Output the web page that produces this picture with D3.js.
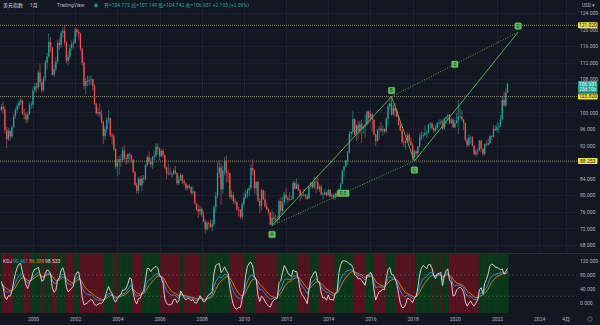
<!DOCTYPE html>
<html>
<head>
<meta charset="utf-8">
<title>美元指数 1月</title>
<script src="https://cdn.jsdelivr.net/npm/d3@7/dist/d3.min.js"></script>
<style>
  html, body { margin: 0; padding: 0; background: #131722; overflow: hidden; }
  svg { display: block; }
  text { font-family: Roboto, "Noto Sans CJK SC", sans-serif; }
</style>
</head>
<body>
<svg id="chart" width="600" height="325"></svg>
<script>
// ---- Monthly U.S. Dollar Index bars, July 1998 – July 2022 ----
// Each monthly bar opens where the previous month closed.
const firstBar = "1998-07";
const firstOpen = 100.6;

const closes = [
  101.4, 100.8, 95.8, 93.6, 95.5, 94.2,
  96.4, 99.2, 100.6, 101.6, 102.4, 102.9, 99.8, 99.5, 98.3, 99.6, 101.8, 101.9,
  105.3, 106.3, 106.0, 109.6, 107.3, 105.3, 108.2, 112.0, 113.5, 117.0, 115.7, 109.1,
  110.5, 112.3, 116.8, 116.2, 119.2, 119.7, 116.9, 112.4, 113.4, 115.6, 116.5, 116.8,
  120.0, 119.4, 119.0, 115.4, 112.0, 106.4, 107.6, 107.5, 107.8, 108.0, 106.4, 102.0,
  99.8, 100.1, 99.6, 97.8, 94.3, 96.0, 98.3, 98.6, 94.5, 94.2, 91.2, 86.9,
  88.0, 88.7, 88.5, 90.8, 88.9, 88.8, 89.9, 89.6, 88.6, 85.6, 82.5, 81.1,
  83.9, 82.4, 84.1, 84.0, 87.3, 89.2, 88.2, 87.4, 89.2, 89.6, 91.7, 91.2,
  89.4, 90.7, 89.7, 86.7, 85.3, 85.3, 85.2, 85.2, 86.0, 85.4, 82.9, 83.7,
  84.9, 83.4, 82.9, 81.7, 82.3, 81.9, 80.6, 80.9, 78.0, 76.6, 76.1, 76.7,
  75.2, 73.6, 71.8, 73.3, 73.2, 72.4, 73.1, 77.1, 79.9, 85.4, 86.7, 81.4,
  86.0, 88.4, 85.4, 85.3, 79.6, 80.1, 78.6, 78.4, 76.6, 76.4, 74.8, 77.9,
  79.5, 80.3, 81.2, 81.8, 86.6, 86.0, 81.7, 83.2, 78.7, 77.4, 81.2, 79.0,
  77.3, 76.6, 75.9, 72.9, 74.6, 74.3, 74.1, 74.2, 78.6, 76.2, 78.3, 80.2,
  79.3, 78.9, 79.0, 79.1, 83.0, 81.6, 82.6, 81.2, 79.9, 80.1, 80.2, 79.8,
  79.2, 82.1, 83.0, 81.9, 83.3, 83.2, 81.5, 82.1, 80.2, 80.2, 80.7, 80.0,
  81.3, 79.7, 80.1, 79.5, 80.4, 79.8, 81.5, 82.8, 86.0, 86.9, 88.4, 90.3,
  94.8, 95.3, 98.4, 94.6, 96.9, 95.5, 97.3, 96.1, 96.4, 97.0, 100.2, 98.6,
  99.6, 98.2, 94.6, 93.1, 95.9, 96.1, 95.6, 96.0, 95.4, 98.5, 101.5, 102.2,
  99.5, 101.1, 100.3, 99.0, 97.0, 95.6, 92.9, 92.7, 93.1, 94.6, 93.0, 92.1,
  89.1, 90.6, 90.1, 91.8, 94.0, 94.5, 94.5, 95.1, 95.1, 97.1, 97.3, 96.2,
  95.6, 96.2, 97.3, 97.5, 97.8, 96.1, 98.5, 98.9, 99.4, 97.4, 98.3, 96.4,
  97.4, 98.1, 99.0, 99.0, 98.3, 97.4, 93.3, 92.1, 93.9, 94.0, 91.9, 89.9,
  90.6, 90.9, 93.2, 91.3, 90.0, 92.4, 92.2, 92.6, 94.3, 94.1, 96.0, 95.7,
  96.5, 96.7, 98.3, 103.0, 101.7, 104.775, 106.931
];

const highs = [
  102.0, 102.6, 101.5, 96.5, 96.3, 95.8,
  96.9, 99.6, 101.2, 102.2, 103.0, 103.6, 103.1, 100.9, 100.0, 100.3, 102.4, 102.6,
  106.1, 107.1, 107.2, 110.2, 111.8, 108.0, 108.8, 112.6, 114.4, 119.1, 118.2, 115.8,
  111.6, 113.4, 117.6, 117.9, 119.6, 120.5, 121.02, 117.2, 114.7, 116.4, 117.4, 117.6,
  120.5, 120.4, 120.0, 119.3, 115.6, 112.4, 108.4, 108.9, 108.8, 109.0, 108.2, 106.8,
  102.3, 101.3, 102.1, 100.6, 98.0, 96.7, 98.9, 100.6, 98.8, 95.1, 94.8, 91.4,
  88.9, 89.5, 90.0, 91.7, 92.0, 89.8, 90.2, 90.4, 90.0, 88.8, 85.8, 83.0,
  84.4, 84.6, 84.9, 84.9, 87.6, 89.7, 90.6, 89.0, 89.5, 90.7, 92.6, 92.5,
  91.6, 91.1, 91.3, 89.9, 86.9, 87.6, 86.7, 85.8, 86.5, 87.1, 85.5, 84.7,
  85.4, 85.1, 83.9, 83.1, 82.6, 82.8, 82.2, 82.3, 81.1, 78.1, 77.8, 77.6,
  77.1, 76.3, 74.3, 73.8, 73.8, 74.1, 74.1, 77.6, 80.8, 88.0, 88.5, 87.7,
  87.1, 89.2, 89.6, 86.2, 85.4, 81.3, 80.8, 79.3, 78.5, 77.2, 76.7, 78.4,
  80.7, 81.3, 81.7, 82.5, 87.5, 88.7, 86.2, 83.4, 83.5, 79.3, 81.5, 81.4,
  81.0, 78.4, 77.0, 76.0, 76.4, 76.0, 75.3, 75.1, 79.0, 79.5, 79.7, 80.8,
  81.8, 79.8, 80.8, 79.9, 83.5, 83.4, 84.1, 82.9, 81.5, 80.4, 81.5, 80.3,
  80.3, 82.2, 83.2, 83.2, 84.5, 84.5, 84.75, 82.6, 82.6, 80.8, 81.5, 80.9,
  81.5, 81.4, 80.5, 80.3, 80.7, 81.0, 81.6, 82.9, 86.1, 87.2, 88.6, 90.6,
  95.5, 95.5, 100.4, 98.6, 97.3, 97.8, 98.1, 98.3, 96.9, 99.5, 100.5, 100.5,
  100.5, 99.9, 98.5, 94.9, 96.0, 96.7, 97.6, 96.8, 96.1, 98.9, 102.0, 103.65,
  103.82, 101.8, 102.3, 101.0, 99.5, 97.8, 96.0, 94.1, 93.6, 95.2, 95.1, 94.0,
  92.6, 90.9, 90.9, 91.9, 95.0, 95.5, 95.2, 96.9, 95.7, 97.2, 97.7, 97.7,
  96.9, 96.9, 97.7, 98.3, 98.4, 98.2, 98.7, 99.1, 99.7, 99.7, 98.6, 98.6,
  98.2, 99.9, 103.0, 100.9, 100.6, 98.4, 97.6, 93.9, 94.7, 94.3, 94.3, 92.1,
  91.1, 91.4, 93.4, 93.4, 91.4, 92.5, 93.2, 93.7, 94.5, 94.6, 96.9, 96.9,
  97.4, 97.7, 99.4, 103.9, 105.0, 105.8, 107.149
];

const lows = [
  100.3, 99.7, 95.0, 91.4, 93.1, 93.2,
  93.8, 96.3, 98.5, 99.8, 100.9, 101.8, 99.4, 98.3, 97.3, 97.4, 99.3, 100.8,
  101.0, 104.6, 104.9, 105.6, 106.2, 104.7, 105.0, 107.5, 110.4, 113.0, 114.6, 108.9,
  108.5, 109.9, 111.7, 115.1, 115.6, 118.0, 116.2, 111.9, 111.3, 112.7, 114.8, 115.4,
  116.5, 118.3, 117.6, 114.7, 111.4, 105.6, 104.4, 106.3, 106.4, 106.6, 105.3, 101.8,
  99.4, 99.0, 98.8, 97.3, 92.4, 93.3, 95.1, 97.4, 94.0, 92.3, 90.6, 86.3,
  84.6, 85.0, 86.9, 88.0, 88.4, 87.4, 87.6, 88.4, 87.8, 85.4, 82.1, 80.4,
  80.4, 82.1, 81.0, 83.0, 83.5, 86.9, 87.5, 86.7, 86.4, 88.6, 89.1, 89.9,
  88.4, 89.2, 89.1, 86.3, 83.9, 84.8, 84.8, 84.2, 84.8, 85.0, 82.5, 82.4,
  83.4, 82.7, 82.3, 81.1, 81.2, 81.4, 80.1, 80.1, 77.9, 76.2, 74.5, 75.2,
  74.8, 73.5, 70.7, 71.4, 72.0, 72.1, 71.3, 72.5, 75.8, 79.2, 84.3, 77.7,
  80.3, 84.8, 82.9, 83.2, 79.0, 79.0, 77.9, 77.7, 76.1, 74.9, 74.2, 74.3,
  77.3, 79.1, 79.3, 79.7, 81.1, 85.0, 80.5, 80.1, 78.4, 75.6, 76.3, 78.8,
  76.9, 76.4, 75.3, 72.8, 72.7, 73.5, 73.4, 73.4, 73.9, 75.2, 75.3, 77.6,
  78.8, 78.1, 78.6, 78.8, 78.9, 81.3, 81.5, 81.1, 78.6, 79.1, 79.7, 79.0,
  78.9, 79.1, 81.6, 81.5, 81.6, 80.5, 81.2, 80.8, 79.9, 79.0, 80.1, 79.7,
  79.9, 79.6, 79.4, 78.9, 78.9, 79.7, 79.7, 81.4, 82.7, 84.5, 86.8, 87.3,
  90.2, 93.5, 94.7, 94.5, 93.1, 93.5, 94.8, 92.6, 94.8, 93.8, 96.8, 97.2,
  97.6, 95.3, 94.5, 91.9, 92.8, 93.4, 95.2, 94.4, 94.9, 95.1, 96.9, 100.6,
  99.2, 99.2, 98.8, 98.8, 96.8, 95.5, 92.4, 91.6, 91.0, 92.8, 92.5, 91.9,
  88.4, 88.253, 89.2, 89.0, 91.5, 93.2, 93.7, 94.3, 93.8, 94.8, 96.0, 95.9,
  95.0, 95.2, 95.7, 96.4, 97.0, 95.8, 95.8, 97.2, 97.9, 97.1, 97.1, 96.2,
  96.2, 97.3, 94.7, 98.6, 98.0, 95.7, 93.0, 91.7, 91.8, 92.5, 91.8, 89.7,
  89.2, 89.7, 90.6, 90.4, 89.5, 89.7, 91.8, 92.0, 92.3, 93.3, 93.9, 95.5,
  95.2, 95.1, 96.5, 98.0, 101.3, 101.3, 104.742
];

// Horizontal price levels and the live price
const levels = [121.02, 103.82, 88.253];
const lastPrice = 106.931;
const lastPriceCountdown = "23d 10h";

// ABCD pattern drawing
const patternLabels = ["A", "B", "C", "D"];
const patternDates = ["2011-05", "2017-01", "2018-02", "2023-01"];
const patternPrices = [72.7, 103.82, 88.253, 119.39];
const ratioLabels = ["0.5", "2"];

// Axis ticks
const priceTicks = [68, 72, 76, 80, 84, 88, 92, 96, 100, 104, 108, 112, 116, 120, 124];
const kdjTicks = [0, 40, 80, 120];
const kdjGuides = [20, 80];
const timeTickDates = ["2000-01", "2002-01", "2004-01", "2006-01", "2008-01", "2010-01",
  "2012-01", "2014-01", "2016-01", "2018-01", "2020-01", "2022-01", "2024-01", "2025-04"];
const timeTickLabels = ["2000", "2002", "2004", "2006", "2008", "2010",
  "2012", "2014", "2016", "2018", "2020", "2022", "2024", "4月"];

// Header and legend text
const symbolName = "美元指数";
const intervalName = "1月";
const ohlcText = "开=104.775 高=107.149 低=104.742 收=106.931 +2.193 (+2.09%)";
const kdjLegend = ["90.461", "86.388", "98.533"];

// ---------------------------------------------------------------
const W = 600, H = 325;
const plotRight = 577;
const priceTop = 0, priceBottom = 253;
const kdjTop = 254, kdjBottom = 313;

const C = {
  bg: "#131722", grid: "#1c2030", text: "#b2b5be", up: "#26a69a", down: "#ef5350",
  level: "#a39a55", pattern: "#5cb85c", k: "#3b8fd9", d: "#e0821e", j: "#f0d6d6",
  bgUp: "#0b3a1b", bgDown: "#5a1420", label: "#f2e34b"
};

const barIndex = s => {
  const [yy, mm] = s.split("-").map(Number);
  const [y0, m0] = firstBar.split("-").map(Number);
  return (yy - y0) * 12 + (mm - m0);
};

const bars = closes.map((c, i) => ({
  i,
  open: i === 0 ? firstOpen : closes[i - 1],
  high: highs[i],
  low: lows[i],
  close: c
}));

// KDJ (9, 3, 3)
function computeKDJ(h, l, c, n = 9, m = 3) {
  const out = [];
  let k = 50, d = 50;
  for (let i = 0; i < c.length; i++) {
    const s = Math.max(0, i - n + 1);
    const hh = d3.max(h.slice(s, i + 1));
    const ll = d3.min(l.slice(s, i + 1));
    const rsv = hh === ll ? 50 : 100 * (c[i] - ll) / (hh - ll);
    k = (rsv + (m - 1) * k) / m;
    d = (k + (m - 1) * d) / m;
    out.push({ i, k, d, j: 3 * k - 2 * d });
  }
  return out;
}
const kdj = computeKDJ(highs, lows, closes);

// Scales
const x = d3.scaleLinear().domain([barIndex("2000-01"), barIndex("2022-01")]).range([33, 497]);
const y = d3.scaleLinear().domain([68, 124]).range([245, 13]);
const yk = d3.scaleLinear().domain([0, 120]).range([303.3, 260.7]);
const step = x(1) - x(0);

const svg = d3.select("#chart");
svg.append("rect").attr("width", W).attr("height", H).attr("fill", C.bg);

const defs = svg.append("defs");
defs.append("clipPath").attr("id", "clipPrice")
  .append("rect").attr("x", 0).attr("y", priceTop).attr("width", plotRight).attr("height", priceBottom - priceTop);
defs.append("clipPath").attr("id", "clipKdj")
  .append("rect").attr("x", 0).attr("y", kdjTop).attr("width", plotRight).attr("height", kdjBottom - kdjTop);

const timeIdx = timeTickDates.map(barIndex);

// ---- KDJ pane ----
const kdjG = svg.append("g").attr("clip-path", "url(#clipKdj)");
kdjG.selectAll("rect.band").data(kdj).join("rect")
  .attr("class", "band")
  .attr("x", d => x(d.i) - step / 2)
  .attr("width", step + 0.05)
  .attr("y", kdjTop)
  .attr("height", kdjBottom - kdjTop)
  .attr("fill", d => d.j > d.d ? C.bgUp : C.bgDown);

kdjG.selectAll("line.kgrid").data(kdjGuides).join("line")
  .attr("x1", 0).attr("x2", plotRight)
  .attr("y1", d => yk(d)).attr("y2", d => yk(d))
  .attr("stroke", "#8a8d96").attr("stroke-opacity", 0.55)
  .attr("stroke-width", 0.6).attr("stroke-dasharray", "2,2");

const kdjLine = key => d3.line().x(d => x(d.i)).y(d => yk(d[key])).curve(d3.curveLinear);
[["d", C.d], ["k", C.k], ["j", C.j]].forEach(([key, col]) => {
  kdjG.append("path").datum(kdj)
    .attr("d", kdjLine(key))
    .attr("fill", "none").attr("stroke", col)
    .attr("stroke-width", 0.9).attr("stroke-linejoin", "round");
});

// ---- Price pane grid ----
const gridG = svg.append("g");
gridG.selectAll("line.h").data(priceTicks).join("line")
  .attr("x1", 0).attr("x2", plotRight)
  .attr("y1", d => Math.round(y(d)) + 0.5).attr("y2", d => Math.round(y(d)) + 0.5)
  .attr("stroke", C.grid).attr("stroke-width", 1);
gridG.selectAll("line.v").data(timeIdx).join("line")
  .attr("x1", d => Math.round(x(d)) + 0.5).attr("x2", d => Math.round(x(d)) + 0.5)
  .attr("y1", priceTop).attr("y2", priceBottom)
  .attr("stroke", C.grid).attr("stroke-width", 1);

// pane separator
svg.append("line").attr("x1", 0).attr("x2", W).attr("y1", 253.5).attr("y2", 253.5)
  .attr("stroke", "#2a2e39").attr("stroke-width", 1);

const priceG = svg.append("g").attr("clip-path", "url(#clipPrice)");

// horizontal level lines
priceG.selectAll("line.level").data(levels).join("line")
  .attr("x1", 0).attr("x2", plotRight)
  .attr("y1", d => y(d)).attr("y2", d => y(d))
  .attr("stroke", C.level).attr("stroke-width", 0.9).attr("stroke-dasharray", "1,1");

// live price line
priceG.append("line")
  .attr("x1", 0).attr("x2", plotRight)
  .attr("y1", y(lastPrice)).attr("y2", y(lastPrice))
  .attr("stroke", C.up).attr("stroke-opacity", 0.35).attr("stroke-width", 0.8)
  .attr("stroke-dasharray", "1,1");

// candles
const candle = priceG.selectAll("g.bar").data(bars).join("g").attr("class", "bar");
candle.append("line")
  .attr("x1", d => x(d.i)).attr("x2", d => x(d.i))
  .attr("y1", d => y(d.high)).attr("y2", d => y(d.low))
  .attr("stroke", d => d.close >= d.open ? C.up : C.down)
  .attr("stroke-width", 0.6);
candle.append("rect")
  .attr("x", d => x(d.i) - 0.65)
  .attr("width", 1.3)
  .attr("y", d => y(Math.max(d.open, d.close)))
  .attr("height", d => Math.max(0.7, Math.abs(y(d.open) - y(d.close))))
  .attr("fill", d => d.close >= d.open ? C.up : C.down);

// ABCD pattern
const pts = patternLabels.map((lab, n) => ({
  lab, px: x(barIndex(patternDates[n])), py: y(patternPrices[n])
}));
const patG = priceG.append("g");
[[0, 1], [1, 2], [2, 3]].forEach(([a, b]) => {
  patG.append("line")
    .attr("x1", pts[a].px).attr("y1", pts[a].py)
    .attr("x2", pts[b].px).attr("y2", pts[b].py)
    .attr("stroke", C.pattern).attr("stroke-width", 0.9);
});
const diag = [[0, 2], [1, 3]];
diag.forEach(([a, b]) => {
  patG.append("line")
    .attr("x1", pts[a].px).attr("y1", pts[a].py)
    .attr("x2", pts[b].px).attr("y2", pts[b].py)
    .attr("stroke", C.pattern).attr("stroke-width", 0.9).attr("stroke-dasharray", "1,1.6");
});

function tag(g, cx, cy, txt) {
  const w = txt.length > 1 ? 4 + txt.length * 2.6 : 6.5;
  const h = 6.5;
  g.append("rect").attr("x", cx - w / 2).attr("y", cy - h / 2)
    .attr("width", w).attr("height", h).attr("rx", 1)
    .attr("fill", C.pattern).attr("stroke", "#7ed37e").attr("stroke-width", 0.4);
  g.append("text").attr("x", cx).attr("y", cy + 1.7)
    .attr("text-anchor", "middle").attr("font-size", 4.6)
    .attr("fill", "#0e2a10").text(txt);
}
pts.forEach((p, n) => {
  const below = n % 2 === 0 && n < 3;
  tag(patG, p.px, below ? p.py + 9 : p.py - 6, p.lab);
});
diag.forEach(([a, b], n) => {
  tag(patG, (pts[a].px + pts[b].px) / 2, (pts[a].py + pts[b].py) / 2, ratioLabels[n]);
});

// ---- Price scale ----
const fmt3 = d3.format(".3f");
const pAxis = svg.append("g").attr("transform", `translate(${plotRight},0)`)
  .call(d3.axisRight(y).tickValues(priceTicks).tickFormat(fmt3).tickSize(0).tickPadding(3));
pAxis.select(".domain").remove();
pAxis.selectAll("text").attr("font-size", 5).attr("fill", C.text).attr("font-family", "Roboto, sans-serif");

const kAxis = svg.append("g").attr("transform", `translate(${plotRight},0)`)
  .call(d3.axisRight(yk).tickValues(kdjTicks).tickFormat(fmt3).tickSize(0).tickPadding(3));
kAxis.select(".domain").remove();
kAxis.selectAll("text").attr("font-size", 5).attr("fill", C.text).attr("font-family", "Roboto, sans-serif");

// level labels on the scale
const lvlG = svg.append("g");
levels.forEach(v => {
  lvlG.append("rect").attr("x", 578).attr("y", y(v) - 3).attr("width", 19.5).attr("height", 6)
    .attr("fill", C.label).attr("rx", 0.8);
  lvlG.append("text").attr("x", 587.75).attr("y", y(v) + 1.8).attr("text-anchor", "middle")
    .attr("font-size", 5).attr("fill", "#131722").text(fmt3(v));
});

// live price label with countdown
lvlG.append("rect").attr("x", 578).attr("y", y(lastPrice) - 2.6).attr("width", 19.5).attr("height", 11.6)
  .attr("fill", C.up).attr("rx", 0.8);
lvlG.append("text").attr("x", 587.75).attr("y", y(lastPrice) + 2.2).attr("text-anchor", "middle")
  .attr("font-size", 5).attr("fill", "#ffffff").text(fmt3(lastPrice));
lvlG.append("text").attr("x", 587.75).attr("y", y(lastPrice) + 7.4).attr("text-anchor", "middle")
  .attr("font-size", 4.6).attr("fill", "#e6f4f2").text(lastPriceCountdown);

// currency menu
svg.append("text").attr("x", 582).attr("y", 7).attr("font-size", 4.8).attr("fill", C.text).text("USD ▾");

// ---- Time scale ----
const tAxis = svg.append("g").attr("transform", `translate(0,${kdjBottom})`)
  .call(d3.axisBottom(x).tickValues(timeIdx).tickFormat((d, n) => timeTickLabels[n]).tickSize(0).tickPadding(4));
tAxis.select(".domain").remove();
tAxis.selectAll("text").attr("font-size", 5).attr("fill", C.text);

// settings gear
svg.append("circle").attr("cx", 590).attr("cy", 319).attr("r", 2.2)
  .attr("fill", "none").attr("stroke", "#787b86").attr("stroke-width", 0.7);

// ---- Header ----
const hdr = svg.append("g").attr("font-size", 5);
hdr.append("text").attr("x", 3).attr("y", 7).attr("fill", "#d1d4dc").text(symbolName);
hdr.append("text").attr("x", 30).attr("y", 7).attr("fill", "#d1d4dc").text(intervalName);
hdr.append("text").attr("x", 57).attr("y", 7).attr("fill", C.text).text("TradingView");
hdr.append("circle").attr("cx", 96).attr("cy", 5.4).attr("r", 2.4).attr("fill", C.up).attr("fill-opacity", 0.3);
hdr.append("circle").attr("cx", 96).attr("cy", 5.4).attr("r", 1.3).attr("fill", C.up);
hdr.append("text").attr("x", 104).attr("y", 7).attr("fill", C.up).text(ohlcText);

// KDJ legend
const lg = svg.append("g").attr("font-size", 5);
lg.append("text").attr("x", 3).attr("y", 263).attr("fill", "#d1d4dc").text("KDJ");
lg.append("text").attr("x", 13).attr("y", 263).attr("fill", C.k).text(kdjLegend[0]);
lg.append("text").attr("x", 29).attr("y", 263).attr("fill", C.d).text(kdjLegend[1]);
lg.append("text").attr("x", 45).attr("y", 263).attr("fill", C.j).text(kdjLegend[2]);
</script>
</body>
</html>
